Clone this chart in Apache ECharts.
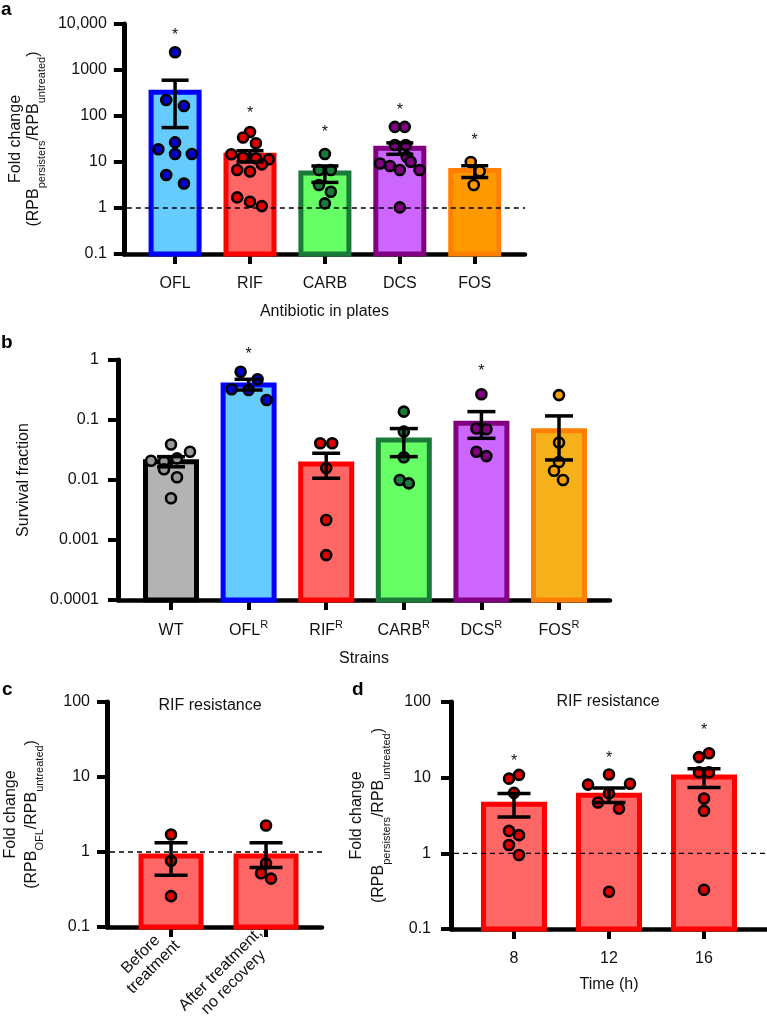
<!DOCTYPE html>
<html><head><meta charset="utf-8">
<script src="https://cdn.jsdelivr.net/npm/echarts@6/dist/echarts.min.js"></script>
<style>html,body{margin:0;padding:0;background:#fff}#c{width:767px;height:1029px}</style>
</head><body><div id="c"></div>
<script>
// ================= DATA =================
// Panel a
const catsA = ['OFL', 'RIF', 'CARB', 'DCS', 'FOS'];
const meanA = [330, 14, 5.8, 20, 6.5];
const semLowA = [56, 10, 3.6, 14.7, 4.6];
const semHighA = [600, 17.6, 8.2, 26, 8.3];
const ptsA_OFL = [2430, 223, 165, 26.7, 18.9, 14.9, 14.9, 5.2, 3.4];
const ptsA_RIF = [45, 34, 25.5, 14.7, 12.6, 12, 11.4, 8.9, 6.7, 6.2, 1.7, 1.37, 1.1];
const ptsA_CARB = [14.9, 6.7, 6.7, 3.16, 2.25, 1.26];
const ptsA_DCS = [58, 58, 23.5, 23.5, 13, 10.1, 9.3, 8.2, 6.7, 6.7, 1.03];
const ptsA_FOS = [10, 6.3, 3.16];
const starA = [7000, 135, 52, 158, 35];
const yTickA = [0.1, 1, 10, 100, 1000, 10000];
const yLabA = ['0.1', '1', '10', '100', '1000', '10,000'];

// Panel b
const catsB = ['WT', 'OFL', 'RIF', 'CARB', 'DCS', 'FOS'];
const supB = ['', 'R', 'R', 'R', 'R', 'R'];
const meanB = [0.0202, 0.383, 0.0185, 0.0464, 0.088, 0.066];
const semLowB = [0.0166, 0.316, 0.0107, 0.0245, 0.0495, 0.0216];
const semHighB = [0.0245, 0.477, 0.0279, 0.072, 0.138, 0.117];
const ptsB_WT = [0.039, 0.0296, 0.0209, 0.0204, 0.0229, 0.0151, 0.0111, 0.00495];
const ptsB_OFL = [0.638, 0.477, 0.325, 0.316, 0.215];
const ptsB_RIF = [0.041, 0.041, 0.0158, 0.00215, 0.00056];
const ptsB_CARB = [0.138, 0.064, 0.024, 0.0100, 0.0088];
const ptsB_DCS = [0.268, 0.072, 0.070, 0.0296, 0.025];
const ptsB_FOS = [0.26, 0.042, 0.020, 0.0143, 0.0100];
const starB = [null, 1.43, null, null, 0.745, null];
const yTickB = [0.0001, 0.001, 0.01, 0.1, 1];
const yLabB = ['0.0001', '0.001', '0.01', '0.1', '1'];

// Panel c
const catsC = [['Before', 'treatment'], ['After treatment,', 'no recovery']];
const meanC = [0.885, 0.885];
const semLowC = [0.49, 0.62];
const semHighC = [1.33, 1.33];
const ptsC_before = [1.71, 0.76, 0.257];
const ptsC_after = [2.25, 0.70, 0.52, 0.44];
const yTickC = [0.1, 1, 10, 100];
const yLabC = ['0.1', '1', '10', '100'];

// Panel d
const catsD = ['8', '12', '16'];
const meanD = [4.45, 5.85, 10.2];
const semLowD = [3.03, 4.7, 7.4];
const semHighD = [6.2, 7.3, 13.1];
const ptsD_8 = [9.7, 10.9, 6.3, 1.98, 1.74, 1.29, 0.95];
const ptsD_12 = [11, 8.1, 8.3, 6.2, 4.7, 3.9, 0.31];
const ptsD_16 = [18.7, 21, 11.8, 11.8, 5.3, 3.64, 0.33];
const starD = [18.7, 20.3, 47];
const yTickD = [0.1, 1, 10, 100];
const yLabD = ['0.1', '1', '10', '100'];

// ================= LAYOUT / STYLE =================
const FF = '"Liberation Sans", Arial, Helvetica, sans-serif';
const TXT = '#111';
const P = [
  {left:118, top:24, width:407, height:230, xmin:-0.684, xmax:4.671, ymin:0.1, ymax:10000, barW:53, capW:27},
  {left:118, top:360, width:492, height:240, xmin:-0.683, xmax:5.657, ymin:0.0001, ymax:1, barW:56, capW:28},
  {left:107, top:702, width:215, height:226, xmin:-0.674, xmax:1.589, ymin:0.1, ymax:100, barW:65, capW:33},
  {left:451, top:702, width:316, height:227, xmin:-0.663, xmax:2.663, ymin:0.1, ymax:100, barW:66, capW:33}
];
// horizontal jitter of dots, in pixels
const jitA = [[0,-9,9,0,-17,0,17,-9,9],[0,-7,6,-19,-7,6,19,12,-13,0,-13,0,12],[0,-6,6,-6,6,0],[-5,5,-5,6,7,11,-20,-10,0,20,0],[-4,5,-1]];
const jitB = [[0,19,-20,-7,6,-7,6,0],[-8,9,-17,0,18],[-6,6,0,0,0],[0,0,0,-4,5],[0,-5,5,-5,5],[0,0,0,-5,4]];
const jitC = [[0,0,0],[0,0,-5,5]];
const jitD = [[-5,5,0,-5,5,-5,5],[0,-21,21,0,-11,10,0],[-5,5,-5,5,0,0,0]];

const fillA = ['#66ccff','#ff6666','#66ff66','#cc66ff','#ff9900'];
const strokeA = ['#0000ff','#ff0000','#1a7a3a','#800080','#ff8000'];
const dotA = ['#0000cc','#dd0000','#1a7a3a','#800080','#ff9900'];
const fillB = ['#b3b3b3','#66ccff','#ff6666','#66ff66','#cc66ff','#f5b01a'];
const strokeB = ['#000000','#0000ff','#ff0000','#1a7a3a','#800080','#ff8000'];
const dotB = ['#999999','#0000cc','#dd0000','#1a7a3a','#800080','#f5a000'];
const fillR = '#ff6666', strokeR = '#ff0000', dotR = '#dd0000';

// ================= BUILDERS =================
function ppu(g){ const p = P[g]; return p.width / (p.xmax - p.xmin); }

function barSeries(g, means, fills, strokes){
  const p = P[g];
  return {
    type:'custom', xAxisIndex:g, yAxisIndex:g, z:2, silent:true,
    encode:{x:0, y:1},
    data: means.map((m,i)=>[i,m]),
    renderItem(params, api){
      const i = api.value(0);
      const top = api.coord([i, api.value(1)]);
      const base = api.coord([i, p.ymin]);
      const w = p.barW;
      return {type:'rect', shape:{x: top[0]-w/2+2.5, y: top[1], width: w-5, height: base[1]-top[1]},
        style:{fill: fills[i], stroke: strokes[i], lineWidth:5}};
    }
  };
}
function errSeries(g, lo, hi){
  const p = P[g];
  return {
    type:'custom', xAxisIndex:g, yAxisIndex:g, z:6, silent:true,
    encode:{x:0, y:[1,2]},
    data: lo.map((l,i)=>[i,l,hi[i]]),
    renderItem(params, api){
      const i = api.value(0);
      const a = api.coord([i, api.value(1)]), b = api.coord([i, api.value(2)]);
      const hw = p.capW/2, st = {stroke:'#000', lineWidth:3.5};
      return {type:'group', children:[
        {type:'line', shape:{x1:a[0], y1:a[1], x2:b[0], y2:b[1]}, style:st},
        {type:'line', shape:{x1:b[0]-hw, y1:b[1], x2:b[0]+hw, y2:b[1]}, style:st},
        {type:'line', shape:{x1:a[0]-hw, y1:a[1], x2:a[0]+hw, y2:a[1]}, style:st}
      ]};
    }
  };
}
function dotSeries(g, groups, jit, colors){
  const u = ppu(g), data = [];
  groups.forEach((vals,i)=>vals.forEach((v,j)=>{
    data.push({value:[i + jit[i][j]/u, v], itemStyle:{color: Array.isArray(colors)?colors[i]:colors}});
  }));
  return {type:'scatter', xAxisIndex:g, yAxisIndex:g, z:5, silent:true, symbol:'circle', symbolSize:10,
    itemStyle:{borderColor:'#000', borderWidth:2.6, opacity:1}, data};
}
function starSeries(g, stars){
  const data = [];
  stars.forEach((s,i)=>{ if (s != null) data.push([i, s]); });
  return {type:'custom', xAxisIndex:g, yAxisIndex:g, z:7, silent:true, encode:{x:0,y:1}, data,
    renderItem(params, api){
      const c = api.coord([api.value(0), api.value(1)]);
      return {type:'text', x:c[0], y:c[1]+4, style:{text:'*', fontSize:16, fontFamily:FF, fill:TXT, align:'center', verticalAlign:'middle'}};
    }};
}
function refLine(g){
  return {type:'custom', xAxisIndex:g, yAxisIndex:g, z:3, silent:true, encode:{x:0,y:1}, data:[[0,1]],
    renderItem(params, api){
      const cs = params.coordSys; const c = api.coord([0, 1]);
      return {type:'line', shape:{x1:cs.x+3, y1:c[1], x2:cs.x+cs.width, y2:c[1]}, style:{stroke:'#000', lineWidth:1.4, lineDash:[5,4]}};
    }};
}
function yFmt(ticks, labs){
  return v => { const k = ticks.findIndex(t => Math.abs(Math.log10(t) - Math.log10(v)) < 1e-6); return k >= 0 ? labs[k] : ''; };
}
function yAxis(g, ticks, labs, extra){
  const p = P[g];
  return Object.assign({type:'log', logBase:10, gridIndex:g, min:p.ymin, max:p.ymax,
    axisLine:{show:true, onZero:false, lineStyle:{color:'#000', width:5}},
    axisTick:{show:true, length:10, lineStyle:{color:'#000', width:4}},
    minorTick:{show:false}, splitLine:{show:false}, minorSplitLine:{show:false},
    axisLabel:{fontSize:16, fontFamily:FF, color:TXT, margin:17, formatter: yFmt(ticks, labs)},
    nameLocation:'middle', nameRotate:90,
    nameTextStyle:{fontSize:16, fontFamily:FF, color:TXT}}, extra || {});
}
function xAxis(g, n, fmt, extra){
  const p = P[g]; const vals = Array.from({length:n}, (_,i)=>i);
  return Object.assign({type:'value', gridIndex:g, min:p.xmin, max:p.xmax,
    axisLine:{show:true, onZero:false, lineStyle:{color:'#000', width:4.5}},
    axisTick:{show:true, customValues: vals, length:10, lineStyle:{color:'#000', width:4}},
    splitLine:{show:false},
    axisLabel:{customValues: vals, fontSize:16, fontFamily:FF, color:TXT, margin:22, formatter: fmt},
    nameLocation:'middle', nameTextStyle:{fontSize:16, fontFamily:FF, color:TXT}}, extra || {});
}
function richName(lh){
  return {
    n:{fontSize:16, fontFamily:FF, color:TXT, lineHeight:lh, verticalAlign:'top'},
    s:{fontSize:11, fontFamily:FF, color:TXT, lineHeight:12, padding:[10,0,0,0], verticalAlign:'top'}
  };
}
const richSup = {
  r:{fontSize:16, fontFamily:FF, color:TXT, lineHeight:20, verticalAlign:'bottom'},
  u:{fontSize:11, fontFamily:FF, color:TXT, lineHeight:12, padding:[0,0,8,0], verticalAlign:'top'}
};
function labB(v){ const i = Math.round(v); return '{r|' + catsB[i] + '}' + (supB[i] ? '{u|' + supB[i] + '}' : ''); }

// ================= OPTION =================
const option = {
  animation:false,
  backgroundColor:'#fff',
  textStyle:{fontFamily:FF},
  grid: P.map(p=>({left:p.left, top:p.top, width:p.width, height:p.height, containLabel:false})),
  xAxis: [
    xAxis(0, catsA.length, v=>catsA[Math.round(v)], {name:'Antibiotic in plates', nameGap:50}),
    xAxis(1, catsB.length, labB,
      {name:'Strains', nameGap:51, axisLabel:{customValues:[0,1,2,3,4,5], margin:19, formatter: labB, rich: richSup}}),
    xAxis(2, catsC.length, null, {axisLabel:{customValues:[0,1], rotate:45, margin:10, fontSize:16, fontFamily:FF, color:TXT,
      formatter: v=>catsC[Math.round(v)].map(l=>'{c|'+l+'}').join('\n'),
      rich:{c:{align:'center', fontSize:16, fontFamily:FF, color:TXT, lineHeight:18}}}}),
    xAxis(3, catsD.length, v=>catsD[Math.round(v)], {name:'Time (h)', nameGap:48})
  ],
  yAxis: [
    yAxis(0, yTickA, yLabA, {name:'{n|Fold change}\n{n|(RPB}{s|persisters}{n|/RPB}{s|untreated}{n|)}', nameGap:79, nameTextStyle:{rich:richName(18)}}),
    yAxis(1, yTickB, yLabB, {name:'Survival fraction', nameGap:86, axisLabel:{fontSize:16, fontFamily:FF, color:TXT, margin:19, formatter:yFmt(yTickB, yLabB)}}),
    yAxis(2, yTickC, yLabC, {name:'{n|Fold change}\n{n|(RPB}{s|OFL}{n|/RPB}{s|untreated}{n|)}', nameGap:62, nameTextStyle:{rich:richName(21)}}),
    yAxis(3, yTickD, yLabD, {name:'{n|Fold change}\n{n|(RPB}{s|persisters}{n|/RPB}{s|untreated}{n|)}', nameGap:58, nameTextStyle:{rich:richName(22)}, axisLabel:{fontSize:16, fontFamily:FF, color:TXT, margin:20, formatter:yFmt(yTickD, yLabD)}})
  ],
  series: [
    barSeries(0, meanA, fillA, strokeA), refLine(0),
    dotSeries(0, [ptsA_OFL, ptsA_RIF, ptsA_CARB, ptsA_DCS, ptsA_FOS], jitA, dotA),
    errSeries(0, semLowA, semHighA), starSeries(0, starA),

    barSeries(1, meanB, fillB, strokeB),
    dotSeries(1, [ptsB_WT, ptsB_OFL, ptsB_RIF, ptsB_CARB, ptsB_DCS, ptsB_FOS], jitB, dotB),
    errSeries(1, semLowB, semHighB), starSeries(1, starB),

    barSeries(2, meanC, [fillR, fillR], [strokeR, strokeR]), refLine(2),
    dotSeries(2, [ptsC_before, ptsC_after], jitC, dotR),
    errSeries(2, semLowC, semHighC),

    barSeries(3, meanD, [fillR, fillR, fillR], [strokeR, strokeR, strokeR]), refLine(3),
    dotSeries(3, [ptsD_8, ptsD_12, ptsD_16], jitD, dotR),
    errSeries(3, semLowD, semHighD), starSeries(3, starD)
  ],
  graphic: [
    {type:'text', left:1, top:0, style:{text:'a', font:'bold 19px '+FF, fill:'#000'}},
    {type:'text', left:1, top:333, style:{text:'b', font:'bold 19px '+FF, fill:'#000'}},
    {type:'text', left:2, top:680, style:{text:'c', font:'bold 19px '+FF, fill:'#000'}},
    {type:'text', left:352, top:680, style:{text:'d', font:'bold 19px '+FF, fill:'#000'}},
    {type:'text', x:210, y:706, style:{text:'RIF resistance', fontSize:16, fontFamily:FF, fill:TXT, align:'center', verticalAlign:'middle'}},
    {type:'text', x:608, y:702, style:{text:'RIF resistance', fontSize:16, fontFamily:FF, fill:TXT, align:'center', verticalAlign:'middle'}}
  ]
};
const chart = echarts.init(document.getElementById('c'), null, {renderer:'canvas'});
chart.setOption(option);
</script>
</body></html>
